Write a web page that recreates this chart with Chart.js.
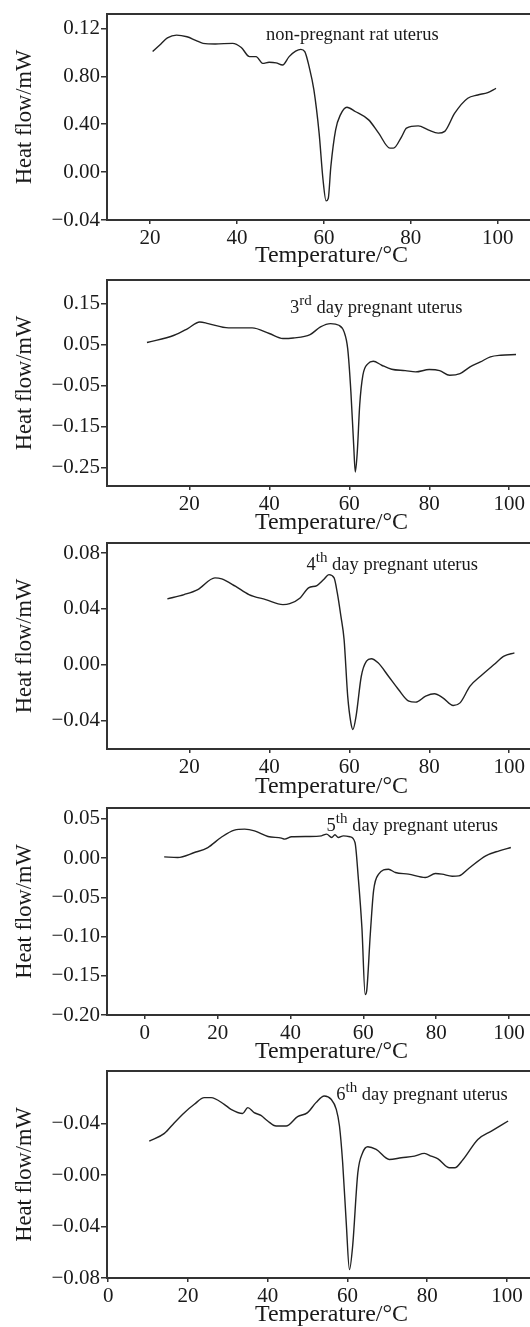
<!DOCTYPE html>
<html>
<head>
<meta charset="utf-8">
<script src="https://cdn.jsdelivr.net/npm/chart.js@4.4.1/dist/chart.umd.min.js"></script>
<style>
  html, body { margin: 0; padding: 0; background: #fff; }
  #wrap { position: relative; width: 530px; height: 1327px; overflow: hidden; }
  #wrap canvas { position: absolute; left: 0; }
</style>
</head>
<body>
<div id="wrap">
  <canvas id="c1"></canvas>
  <canvas id="c2"></canvas>
  <canvas id="c3"></canvas>
  <canvas id="c4"></canvas>
  <canvas id="c5"></canvas>
</div>
<script>
// ---- data ----
// non-pregnant rat uterus
const temp1 = [20.6, 22.5, 24.0, 26.1, 28.5, 30.5, 32.2, 35.0, 39.0, 41.0, 42.9, 44.4, 45.9, 47.4, 49.0, 50.5, 52.0, 53.5, 54.7, 55.6, 56.6, 57.7, 58.9, 59.8, 60.5, 61.0, 61.6, 62.7, 63.8, 65.3, 67.2, 70.3, 72.6, 75.2, 76.0, 77.9, 79.0, 81.7, 84.0, 86.3, 87.8, 90.1, 93.1, 95.4, 97.7, 99.6];
const flow1 = [0.1006, 0.107, 0.112, 0.1144, 0.113, 0.110, 0.1075, 0.107, 0.1075, 0.104, 0.0964, 0.0964, 0.0908, 0.0917, 0.0912, 0.0894, 0.0964, 0.101, 0.1025, 0.1006, 0.088, 0.0686, 0.0325, -0.0064, -0.024, -0.022, 0.0047, 0.0353, 0.0478, 0.0542, 0.0506, 0.0436, 0.0325, 0.020, 0.020, 0.0297, 0.0367, 0.0386, 0.0353, 0.0325, 0.034, 0.0492, 0.0617, 0.0644, 0.0664, 0.070];

// 3rd day pregnant uterus
const temp2 = [9.4, 16.2, 19.6, 22.6, 24.7, 29.8, 35.7, 40.0, 43.4, 46.0, 50.2, 52.8, 55.3, 57.4, 58.7, 59.6, 60.4, 61.1, 61.5, 62.0, 62.6, 63.4, 64.7, 66.0, 68.1, 70.6, 74.0, 76.6, 80.0, 82.6, 85.1, 87.7, 90.2, 92.8, 95.3, 97.9, 101.7];
const flow2 = [0.0549, 0.0727, 0.089, 0.105, 0.101, 0.0906, 0.0906, 0.0768, 0.0646, 0.066, 0.0743, 0.093, 0.101, 0.097, 0.0808, 0.040, -0.065, -0.195, -0.260, -0.211, -0.0976, -0.0246, 0.0038, 0.0094, -0.0003, -0.010, -0.0133, -0.0165, -0.0108, -0.0133, -0.0246, -0.0206, -0.0043, 0.0078, 0.020, 0.024, 0.0257];

// 4th day pregnant uterus
const temp3 = [14.5, 18.7, 22.1, 26.4, 28.1, 31.5, 34.9, 39.1, 43.4, 45.1, 47.7, 49.8, 51.9, 53.6, 54.9, 56.2, 57.0, 57.9, 58.7, 59.6, 60.4, 60.9, 61.7, 63.0, 64.3, 65.5, 67.2, 69.8, 72.3, 74.9, 76.6, 79.1, 81.3, 83.4, 86.0, 87.7, 90.2, 92.8, 96.2, 98.7, 101.3];
const flow3 = [0.0471, 0.0502, 0.0538, 0.0622, 0.0614, 0.0562, 0.0502, 0.0466, 0.043, 0.0437, 0.0478, 0.055, 0.0567, 0.061, 0.0645, 0.0622, 0.0514, 0.0347, 0.0179, -0.0227, -0.0418, -0.0466, -0.037, -0.0084, 0.0024, 0.0041, 0.0012, -0.0084, -0.0179, -0.0263, -0.027, -0.0227, -0.021, -0.0239, -0.0294, -0.0275, -0.0155, -0.0084, 0.000, 0.006, 0.0084];

// 5th day pregnant uterus
const temp4 = [5.3, 9.0, 13.6, 17.3, 20.9, 24.6, 27.4, 30.1, 33.8, 37.5, 38.4, 40.3, 44.9, 48.5, 49.9, 51.3, 52.2, 53.1, 54.5, 56.3, 57.7, 58.6, 59.6, 60.5, 60.9, 61.9, 62.8, 64.2, 66.9, 68.8, 72.4, 77.0, 79.8, 81.6, 84.4, 86.2, 89.0, 93.6, 97.3, 100.5];
const flow4 = [0.0017, 0.0009, 0.0072, 0.0136, 0.0264, 0.0358, 0.037, 0.0349, 0.0277, 0.0256, 0.0243, 0.0273, 0.0277, 0.0285, 0.0307, 0.0264, 0.0298, 0.0264, 0.0285, 0.0273, 0.020, -0.0247, -0.0886, -0.1738, -0.1695, -0.0971, -0.0417, -0.0204, -0.0141, -0.0183, -0.0204, -0.0247, -0.0196, -0.0204, -0.023, -0.0226, -0.0128, 0.003, 0.0094, 0.0136];

// 6th day pregnant uterus
const temp5 = [10.3, 14.1, 16.6, 19.1, 21.6, 24.1, 25.8, 29.1, 30.8, 33.7, 35.0, 36.6, 38.3, 40.0, 42.1, 44.6, 47.5, 50.0, 52.1, 54.2, 55.9, 57.2, 58.0, 58.8, 59.7, 60.5, 61.3, 62.6, 63.8, 65.1, 67.2, 70.5, 73.5, 76.8, 79.3, 81.0, 82.7, 85.6, 86.9, 89.0, 92.7, 96.1, 100.3];
const flow5 = [0.0265, 0.0325, 0.0408, 0.0486, 0.0551, 0.0603, 0.0603, 0.0551, 0.0512, 0.048, 0.0525, 0.0486, 0.0465, 0.0421, 0.0382, 0.0382, 0.0455, 0.0486, 0.0564, 0.0616, 0.059, 0.0512, 0.0382, 0.0096, -0.0371, -0.0735, -0.0553, 0.0018, 0.0174, 0.0221, 0.020, 0.0122, 0.0135, 0.0148, 0.0169, 0.0148, 0.0127, 0.0057, 0.0057, 0.0122, 0.0278, 0.0343, 0.0421];

// tick values and the labels printed on the figure
const xTicksA = [20, 40, 60, 80, 100];
const xTicksB = [0, 20, 40, 60, 80, 100];
const yTicks1 = [-0.04, 0, 0.04, 0.08, 0.12];
const yLabels1 = ['\u22120.04', '0.00', '0.40', '0.80', '0.12'];
const yTicks2 = [-0.25, -0.15, -0.05, 0.05, 0.15];
const yLabels2 = ['\u22120.25', '\u22120.15', '\u22120.05', '0.05', '0.15'];
const yTicks3 = [-0.04, 0, 0.04, 0.08];
const yLabels3 = ['\u22120.04', '0.00', '0.04', '0.08'];
const yTicks4 = [-0.20, -0.15, -0.10, -0.05, 0, 0.05];
const yLabels4 = ['\u22120.20', '\u22120.15', '\u22120.10', '\u22120.05', '0.00', '0.05'];
const yTicks5 = [-0.08, -0.04, 0, 0.04];
const yLabels5 = ['\u22120.08', '\u22120.04', '\u22120.00', '\u22120.04'];

const FONT = '"Liberation Serif", "Times New Roman", serif';
const INK = '#1a1a1a';
const AXIS = '#333';

// panel geometry (page pixels) and axis ranges
const panels = [
  { id: 'c1', top: 14, bottom: 220, temp: temp1, flow: flow1, xMin: 10.1, xMax: 113.4, yMin: -0.04, yMax: 0.132,
    xTicks: xTicksA, yTicks: yTicks1, yLabels: yLabels1, titlePad: 2,
    note: { x: 46.7, y: 0.1103, parts: [{ t: 'non-pregnant rat uterus' }] } },
  { id: 'c2', top: 280, bottom: 485.7, temp: temp2, flow: flow2, xMin: -0.6, xMax: 111.7, yMin: -0.294, yMax: 0.207,
    xTicks: xTicksA, yTicks: yTicks2, yLabels: yLabels2, titlePad: 1,
    note: { x: 45.2, y: 0.126, parts: [{ t: '3' }, { t: 'rd', sup: true }, { t: ' day pregnant uterus' }] } },
  { id: 'c3', top: 543.3, bottom: 749.3, temp: temp3, flow: flow3, xMin: -0.6, xMax: 111.7, yMin: -0.0606, yMax: 0.0872,
    xTicks: xTicksA, yTicks: yTicks3, yLabels: yLabels3, titlePad: 0,
    note: { x: 49.3, y: 0.068, parts: [{ t: '4' }, { t: 'th', sup: true }, { t: ' day pregnant uterus' }] } },
  { id: 'c4', top: 808.3, bottom: 1015, temp: temp4, flow: flow4, xMin: -10.4, xMax: 112.9, yMin: -0.20, yMax: 0.064,
    xTicks: xTicksB, yTicks: yTicks4, yLabels: yLabels4, titlePad: 1,
    note: { x: 49.9, y: 0.035, parts: [{ t: '5' }, { t: 'th', sup: true }, { t: ' day pregnant uterus' }] } },
  { id: 'c5', top: 1071, bottom: 1278, temp: temp5, flow: flow5, xMin: -0.3, xMax: 112.3, yMin: -0.08, yMax: 0.081,
    xTicks: xTicksB, yTicks: yTicks5, yLabels: yLabels5, titlePad: 1.4,
    note: { x: 57.2, y: 0.0585, parts: [{ t: '6' }, { t: 'th', sup: true }, { t: ' day pregnant uterus' }] } }
];

// the frame runs past the right edge of the page, so the canvas is wider than the window
const PAD_TOP = 14, X_AXIS_H = 50, Y_AXIS_W = 107, CANVAS_W = 560;

// top frame line + the sample label
function framePlugin(note) {
  return {
    id: 'frame',
    afterDraw(chart) {
      const { ctx, chartArea: a, scales } = chart;
      ctx.save();
      ctx.strokeStyle = AXIS;
      ctx.lineWidth = 2;
      ctx.beginPath();
      ctx.moveTo(a.left - 1, a.top);
      ctx.lineTo(a.right, a.top);
      ctx.stroke();

      let x = scales.x.getPixelForValue(note.x);
      const y = scales.y.getPixelForValue(note.y);
      ctx.fillStyle = INK;
      ctx.textBaseline = 'alphabetic';
      note.parts.forEach(p => {
        ctx.font = (p.sup ? '15px ' : '18.5px ') + FONT;
        ctx.fillText(p.t, x, p.sup ? y - 8 : y);
        x += ctx.measureText(p.t).width;
      });
      ctx.restore();
    }
  };
}

panels.forEach(p => {
  const canvas = document.getElementById(p.id);
  const h = p.bottom - p.top + PAD_TOP + X_AXIS_H;
  canvas.width = CANVAS_W;
  canvas.height = Math.round(h);
  canvas.style.width = CANVAS_W + 'px';
  canvas.style.height = Math.round(h) + 'px';
  canvas.style.top = (p.top - PAD_TOP) + 'px';

  new Chart(canvas, {
    type: 'line',
    data: {
      datasets: [{
        data: p.temp.map((t, i) => ({ x: t, y: p.flow[i] })),
        borderColor: '#222',
        borderWidth: 1.4,
        pointRadius: 0,
        fill: false,
        cubicInterpolationMode: 'monotone'
      }]
    },
    options: {
      responsive: false,
      animation: false,
      devicePixelRatio: 1,
      layout: { padding: { top: PAD_TOP, right: 4, left: 0, bottom: 0 } },
      plugins: { legend: { display: false }, tooltip: { enabled: false } },
      scales: {
        x: {
          type: 'linear',
          min: p.xMin,
          max: p.xMax,
          afterBuildTicks: axis => { axis.ticks = p.xTicks.map(v => ({ value: v })); },
          afterFit: axis => { axis.height = X_AXIS_H; },
          ticks: { color: INK, font: { family: FONT, size: 21 }, padding: 2, maxRotation: 0, autoSkip: false },
          grid: { drawOnChartArea: false, drawTicks: true, tickLength: 4, color: AXIS, lineWidth: 1.5 },
          border: { display: true, color: AXIS, width: 2 },
          title: {
            display: true,
            text: 'Temperature/\u00B0C',
            color: INK,
            font: { family: FONT, size: 24, lineHeight: 1 },
            padding: { top: 0, bottom: p.titlePad }
          }
        },
        y: {
          type: 'linear',
          min: p.yMin,
          max: p.yMax,
          afterBuildTicks: axis => { axis.ticks = p.yTicks.map(v => ({ value: v })); },
          afterFit: axis => { axis.width = Y_AXIS_W; },
          ticks: {
            color: INK,
            font: { family: FONT, size: 21 },
            padding: 1,
            callback: v => {
              const i = p.yTicks.findIndex(t => Math.abs(t - v) < 1e-9);
              return i >= 0 ? p.yLabels[i] : '';
            }
          },
          grid: { drawOnChartArea: false, drawTicks: true, tickLength: 6, color: AXIS, lineWidth: 1.5 },
          border: { display: true, color: AXIS, width: 2 },
          title: {
            display: true,
            text: 'Heat flow/mW',
            color: INK,
            font: { family: FONT, size: 22.5, lineHeight: 1 },
            padding: { top: 14, bottom: 0 }
          }
        }
      }
    },
    plugins: [framePlugin(p.note)]
  });
});
</script>
</body>
</html>
